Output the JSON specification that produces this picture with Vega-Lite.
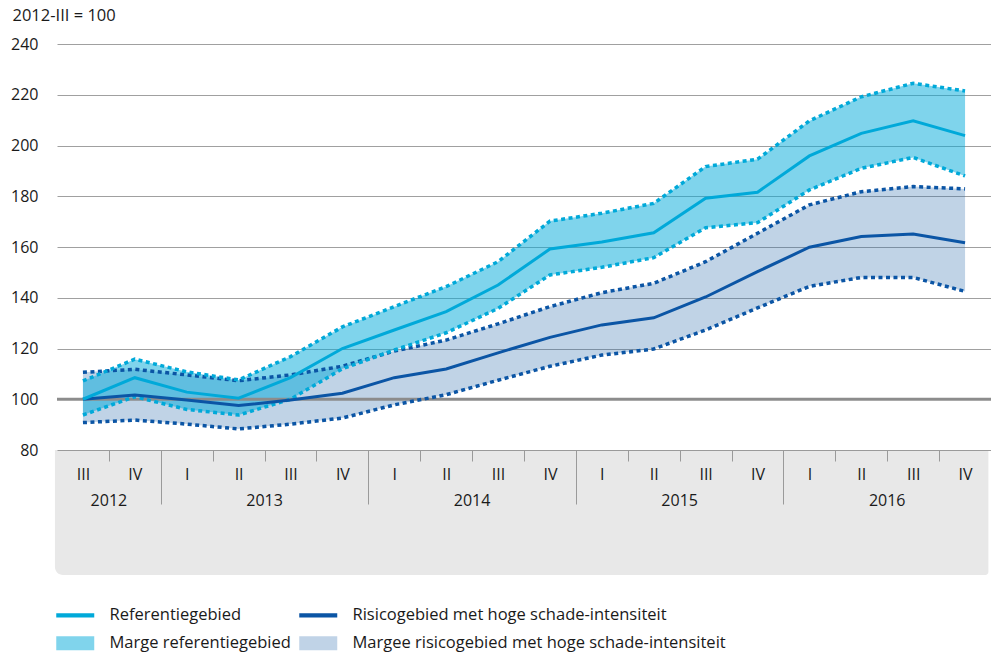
{
  "$schema": "https://vega.github.io/schema/vega-lite/v6.json",
  "width": 934,
  "height": 406,
  "autosize": "none",
  "padding": {"left": 57, "top": 44, "right": 0, "bottom": 202},
  "background": "white",
  "config": {
    "view": {"stroke": null},
    "font": "Open Sans",
    "axis": {"labelFont": "Open Sans", "titleFont": "Open Sans"},
    "legend": {"labelFont": "Open Sans"}
  },
  "datasets": {
    "main": [
      {"i": 0, "q": "III", "year": "2012", "ref": 100, "refLo": 93.8, "refHi": 107.2, "ris": 100, "risLo": 90.8, "risHi": 110.6},
      {"i": 1, "q": "IV", "year": "2012", "ref": 108.5, "refLo": 101, "refHi": 115.8, "ris": 101.7, "risLo": 91.8, "risHi": 111.8},
      {"i": 2, "q": "I", "year": "2013", "ref": 102.8, "refLo": 96, "refHi": 110.8, "ris": 99.7, "risLo": 90.2, "risHi": 109.6},
      {"i": 3, "q": "II", "year": "2013", "ref": 100.4, "refLo": 93.8, "refHi": 107.6, "ris": 97.5, "risLo": 88.3, "risHi": 107.3},
      {"i": 4, "q": "III", "year": "2013", "ref": 108.5, "refLo": 100, "refHi": 116.8, "ris": 99.7, "risLo": 90.2, "risHi": 109.6},
      {"i": 5, "q": "IV", "year": "2013", "ref": 120, "refLo": 112, "refHi": 128.5, "ris": 102.4, "risLo": 92.6, "risHi": 113},
      {"i": 6, "q": "I", "year": "2014", "ref": 127.3, "refLo": 119.4, "refHi": 136.5, "ris": 108.5, "risLo": 97.8, "risHi": 119},
      {"i": 7, "q": "II", "year": "2014", "ref": 134.5, "refLo": 126.2, "refHi": 144.4, "ris": 111.9, "risLo": 101.8, "risHi": 123.3},
      {"i": 8, "q": "III", "year": "2014", "ref": 145, "refLo": 135.8, "refHi": 154.2, "ris": 118.3, "risLo": 107.5, "risHi": 129.7},
      {"i": 9, "q": "IV", "year": "2014", "ref": 159.2, "refLo": 149, "refHi": 170.2, "ris": 124.4, "risLo": 113, "risHi": 136.5},
      {"i": 10, "q": "I", "year": "2015", "ref": 162, "refLo": 152, "refHi": 173.3, "ris": 129.3, "risLo": 117.4, "risHi": 142},
      {"i": 11, "q": "II", "year": "2015", "ref": 165.6, "refLo": 155.8, "refHi": 177.2, "ris": 132.1, "risLo": 119.8, "risHi": 145.7},
      {"i": 12, "q": "III", "year": "2015", "ref": 179.2, "refLo": 167.6, "refHi": 191.7, "ris": 140.3, "risLo": 127.3, "risHi": 154.2},
      {"i": 13, "q": "IV", "year": "2015", "ref": 181.6, "refLo": 169.6, "refHi": 194.6, "ris": 150.3, "risLo": 136, "risHi": 165.4},
      {"i": 14, "q": "I", "year": "2016", "ref": 195.9, "refLo": 182.5, "refHi": 209.7, "ris": 159.9, "risLo": 144.5, "risHi": 176.6},
      {"i": 15, "q": "II", "year": "2016", "ref": 204.8, "refLo": 191, "refHi": 219.2, "ris": 164.1, "risLo": 148, "risHi": 181.8},
      {"i": 16, "q": "III", "year": "2016", "ref": 209.7, "refLo": 195.3, "refHi": 224.5, "ris": 165.1, "risLo": 148, "risHi": 183.8},
      {"i": 17, "q": "IV", "year": "2016", "ref": 203.9, "refLo": 188, "refHi": 221.5, "ris": 161.7, "risLo": 142.5, "risHi": 182.9}
    ],
    "legend": [
      {"s": "Referentiegebied"},
      {"s": "Risicogebied met hoge schade-intensiteit"},
      {"s": "Marge referentiegebied"},
      {"s": "Margee risicogebied met hoge schade-intensiteit"}
    ]
  },
  "layer": [
    {
      "data": {"values": [{}]},
      "mark": {"type": "rect", "color": "#e8e8e8", "cornerRadiusBottomLeft": 8, "cornerRadiusBottomRight": 3},
      "encoding": {
        "x": {
          "datum": -0.54,
          "type": "quantitative",
          "scale": {"domain": [-0.5, 17.5], "nice": false, "zero": false},
          "axis": {
            "values": [0, 1, 2, 3, 4, 5, 6, 7, 8, 9, 10, 11, 12, 13, 14, 15, 16, 17],
            "labelExpr": "['III','IV','I','II','III','IV','I','II','III','IV','I','II','III','IV','I','II','III','IV'][datum.value]",
            "title": null,
            "grid": false,
            "domainColor": "#9a9a9a",
            "domainWidth": 1,
            "tickColor": "#9a9a9a",
            "tickWidth": 1,
            "tickSize": {"condition": {"test": "indexof([1,5,9,13], datum.value) >= 0", "value": 54}, "value": 11},
            "tickOpacity": {"condition": {"test": "datum.value == 17", "value": 0}, "value": 1},
            "tickOffset": 25.944,
            "labelOffset": -25.944,
            "labelPadding": {"condition": {"test": "indexof([1,5,9,13], datum.value) >= 0", "value": -38}, "value": 5},
            "labelFontSize": 16,
            "labelColor": "#1a1a1a",
            "labelBound": false,
            "labelFlush": false,
            "labelOverlap": false,
            "zindex": 1
          }
        },
        "x2": {"datum": 17.45},
        "y": {
          "datum": 80,
          "type": "quantitative",
          "scale": {"domain": [80, 240], "nice": false, "zero": false},
          "axis": {
            "values": [80, 100, 120, 140, 160, 180, 200, 220, 240],
            "domain": false,
            "ticks": false,
            "grid": true,
            "gridColor": "#a0a0a0",
            "gridWidth": 1,
            "labelFontSize": 16,
            "labelColor": "#1a1a1a",
            "labelPadding": 19,
            "title": "2012-III = 100",
            "titleAngle": 0,
            "titleX": -45,
            "titleY": -29,
            "titleAlign": "left",
            "titleBaseline": "middle",
            "titleFontWeight": "normal",
            "titleFontSize": 16.5,
            "titleColor": "#1a1a1a",
            "zindex": 0
          }
        },
        "y2": {"datum": 30.7}
      }
    },
    {
      "data": {"name": "main"},
      "mark": {"type": "area", "color": "#2d6cac", "opacity": 0.3},
      "encoding": {
        "x": {"field": "i", "type": "quantitative"},
        "y": {"field": "risLo", "type": "quantitative"},
        "y2": {"field": "risHi"}
      }
    },
    {
      "data": {"name": "main"},
      "mark": {"type": "area", "color": "#00a9d9", "opacity": 0.5},
      "encoding": {
        "x": {"field": "i", "type": "quantitative"},
        "y": {"field": "refLo", "type": "quantitative"},
        "y2": {"field": "refHi"}
      }
    },
    {
      "data": {"values": [{}]},
      "mark": {"type": "rule", "color": "#8c8c8c", "strokeWidth": 3},
      "encoding": {"y": {"datum": 100, "type": "quantitative"}}
    },
    {
      "data": {"name": "main"},
      "mark": {"type": "line", "color": "#0b55a5", "strokeWidth": 3.5, "strokeDash": [4, 3.5]},
      "encoding": {"x": {"field": "i", "type": "quantitative"}, "y": {"field": "risLo", "type": "quantitative"}}
    },
    {
      "data": {"name": "main"},
      "mark": {"type": "line", "color": "#0b55a5", "strokeWidth": 3.5, "strokeDash": [4, 3.5]},
      "encoding": {"x": {"field": "i", "type": "quantitative"}, "y": {"field": "risHi", "type": "quantitative"}}
    },
    {
      "data": {"name": "main"},
      "mark": {"type": "line", "color": "#00a9d9", "strokeWidth": 3.5, "strokeDash": [4, 3.5]},
      "encoding": {"x": {"field": "i", "type": "quantitative"}, "y": {"field": "refLo", "type": "quantitative"}}
    },
    {
      "data": {"name": "main"},
      "mark": {"type": "line", "color": "#00a9d9", "strokeWidth": 3.5, "strokeDash": [4, 3.5]},
      "encoding": {"x": {"field": "i", "type": "quantitative"}, "y": {"field": "refHi", "type": "quantitative"}}
    },
    {
      "data": {"name": "main"},
      "mark": {"type": "line", "color": "#0b55a5", "strokeWidth": 3},
      "encoding": {"x": {"field": "i", "type": "quantitative"}, "y": {"field": "ris", "type": "quantitative"}}
    },
    {
      "data": {"name": "main"},
      "mark": {"type": "line", "color": "#00a9d9", "strokeWidth": 3},
      "encoding": {"x": {"field": "i", "type": "quantitative"}, "y": {"field": "ref", "type": "quantitative"}}
    },
    {
      "data": {"name": "main"},
      "mark": {"type": "text", "fontSize": 16, "color": "#1a1a1a", "baseline": "middle", "align": "center"},
      "encoding": {
        "x": {"aggregate": "mean", "field": "i", "type": "quantitative"},
        "y": {"datum": 59.8, "type": "quantitative"},
        "text": {"field": "year", "type": "nominal"}
      }
    },
    {
      "data": {"name": "legend"},
      "mark": {"type": "point", "filled": true, "opacity": 0},
      "encoding": {
        "fill": {
          "field": "s",
          "type": "nominal",
          "scale": {
            "domain": ["Referentiegebied", "Risicogebied met hoge schade-intensiteit", "Marge referentiegebied", "Margee risicogebied met hoge schade-intensiteit"],
            "range": ["#00a9d9", "#0b55a5", "#80d4ec", "#c0d3e7"]
          },
          "legend": {
            "orient": "none",
            "direction": "horizontal",
            "legendX": 10,
            "legendY": 563,
            "columns": 2,
            "title": null,
            "symbolSize": 196,
            "symbolStrokeWidth": 0,
            "symbolOpacity": 1,
            "labelFontSize": 16.5,
            "labelColor": "#1a1a1a",
            "labelOffset": 26,
            "labelLimit": 600,
            "columnPadding": 8,
            "rowPadding": 11,
            "padding": 0
          }
        },
        "shape": {
          "field": "s",
          "type": "nominal",
          "scale": {
            "domain": ["Referentiegebied", "Risicogebied met hoge schade-intensiteit", "Marge referentiegebied", "Margee risicogebied met hoge schade-intensiteit"],
            "range": ["M-2.714,-0.286L2.714,-0.286L2.714,0.286L-2.714,0.286Z", "M-2.714,-0.286L2.714,-0.286L2.714,0.286L-2.714,0.286Z", "M-2.714,-1L2.714,-1L2.714,1L-2.714,1Z", "M-2.714,-1L2.714,-1L2.714,1L-2.714,1Z"]
          },
          "legend": {
            "orient": "none",
            "direction": "horizontal",
            "legendX": 10,
            "legendY": 563,
            "columns": 2,
            "title": null,
            "symbolSize": 196,
            "symbolStrokeWidth": 0,
            "symbolOpacity": 1,
            "labelFontSize": 16.5,
            "labelColor": "#1a1a1a",
            "labelOffset": 26,
            "labelLimit": 600,
            "columnPadding": 8,
            "rowPadding": 11,
            "padding": 0
          }
        }
      }
    }
  ]
}
